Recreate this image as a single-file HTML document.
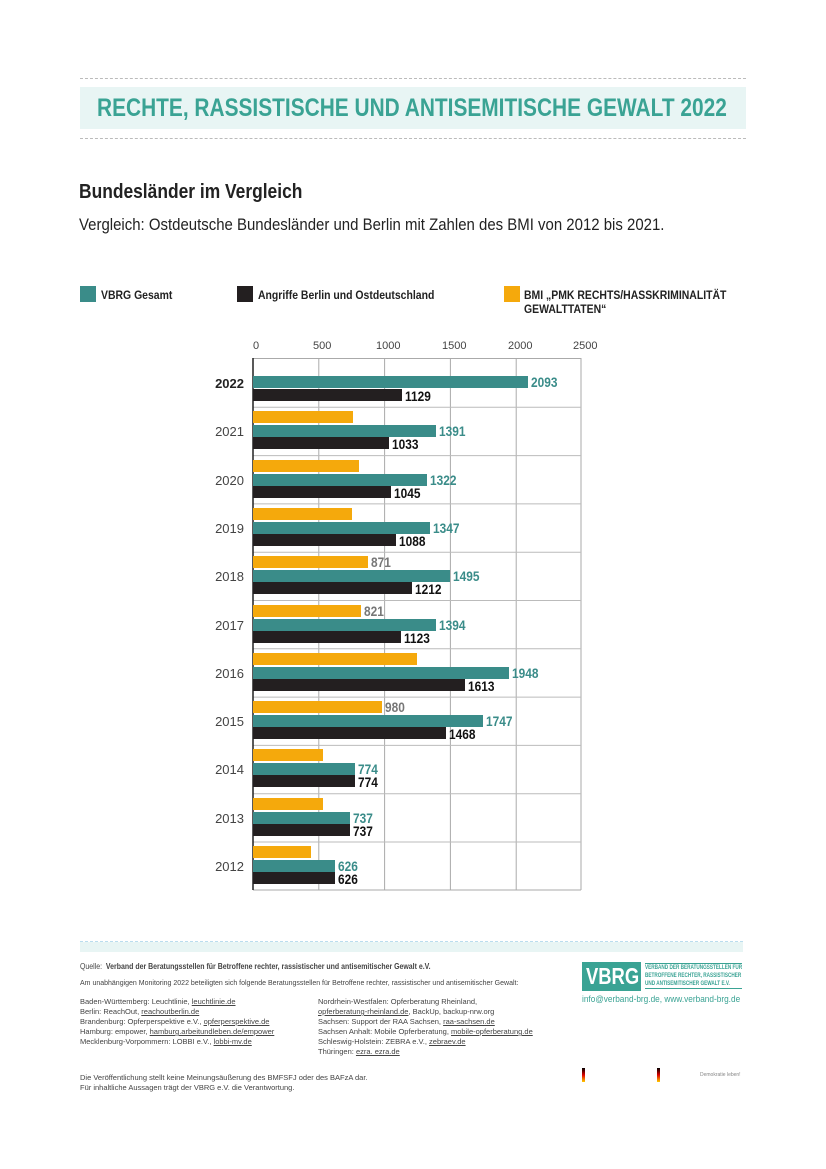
<!DOCTYPE html>
<html><head><meta charset="utf-8"><style>
body{margin:0;background:#fff;}
#p{position:relative;width:826px;height:1169px;overflow:hidden;font-family:"Liberation Sans",sans-serif;color:#222;}
.a{position:absolute;white-space:nowrap;}
.n{transform-origin:0 0;transform:scaleX(0.87);}
.bar{position:absolute;height:12px;}
.t{background:#3a8c89}.k{background:#231f20}.y{background:#f5a90c}
.v{position:absolute;font-weight:bold;font-size:14px;line-height:12px;transform-origin:0 0;transform:scaleX(0.85);}
.yr{position:absolute;left:200px;width:44px;text-align:right;font-size:13px;color:#444;}
.ft{font-size:8px;color:#444;line-height:10px;}
.u{text-decoration:underline;}
</style></head><body><div id="p">
<div class="a" style="left:80px;top:78px;width:666px;border-top:1px dashed #bbb;"></div>
<div class="a" style="left:80px;top:87px;width:666px;height:42px;background:#e8f5f4;"></div>
<div class="a" style="left:80px;top:138px;width:666px;border-top:1px dashed #bbb;"></div>
<div class="a" style="left:97px;top:94px;font-size:25px;font-weight:bold;color:#3aa394;transform-origin:0 0;transform:scaleX(0.835);">RECHTE, RASSISTISCHE UND ANTISEMITISCHE GEWALT 2022</div>
<div class="a n" style="left:79px;top:181px;font-size:20px;font-weight:bold;color:#222;">Bundesländer im Vergleich</div>
<div class="a" style="left:79px;top:215px;font-size:17px;color:#222;transform-origin:0 0;transform:scaleX(0.88);">Vergleich: Ostdeutsche Bundesländer und Berlin mit Zahlen des BMI von 2012 bis 2021.</div>

<div class="a" style="left:80px;top:286px;width:16px;height:16px;background:#3a8c89"></div>
<div class="a n" style="left:101px;top:288px;font-size:12px;font-weight:bold;">VBRG Gesamt</div>
<div class="a" style="left:237px;top:286px;width:16px;height:16px;background:#231f20"></div>
<div class="a n" style="left:258px;top:288px;font-size:12px;font-weight:bold;">Angriffe Berlin und Ostdeutschland</div>
<div class="a" style="left:504px;top:286px;width:16px;height:16px;background:#f5a90c"></div>
<div class="a n" style="left:524px;top:288px;font-size:12px;font-weight:bold;line-height:14px;">BMI „PMK RECHTS/HASSKRIMINALITÄT<br>GEWALTTATEN“</div>

<svg class="a" style="left:0;top:0" width="826" height="1169">
<g stroke="#aaa" stroke-width="1">
<line x1="318.8" y1="358" x2="318.8" y2="890"/><line x1="384.6" y1="358" x2="384.6" y2="890"/>
<line x1="450.4" y1="358" x2="450.4" y2="890"/><line x1="516.2" y1="358" x2="516.2" y2="890"/>
<line x1="581" y1="358" x2="581" y2="890"/>
<line x1="253" y1="358.5" x2="581" y2="358.5"/><line x1="253" y1="890" x2="581" y2="890"/>
</g>
<g stroke="#bbb" id="rows"></g>
<line x1="253" y1="358" x2="253" y2="890" stroke="#222" stroke-width="1.5"/>
</svg>
<div class="a" style="left:253px;top:340px;width:330px;font-size:11px;color:#444;">
<span class="a" style="left:0">0</span><span class="a" style="left:60px">500</span><span class="a" style="left:123px">1000</span><span class="a" style="left:189px">1500</span><span class="a" style="left:255px">2000</span><span class="a" style="left:320px">2500</span></div>
<div id="c"></div>
<div class="a" style="left:80px;top:941px;width:663px;border-top:1px dashed #bde;"></div>
<div class="a" style="left:80px;top:942px;width:663px;height:10px;background:#e8f5f4;"></div>
<div class="a ft n" style="left:80px;top:962px;">Quelle: &nbsp;<b>Verband der Beratungsstellen für Betroffene rechter, rassistischer und antisemitischer Gewalt e.V.</b></div>
<div class="a ft" style="left:80px;top:979px;font-size:7px;">Am unabhängigen Monitoring 2022 beteiligten sich folgende Beratungsstellen für Betroffene rechter, rassistischer und antisemitischer Gewalt:</div>
<div class="a ft" style="left:80px;top:997px;font-size:7.5px;">Baden-Württemberg: Leuchtlinie, <span class="u">leuchtlinie.de</span><br>Berlin: ReachOut, <span class="u">reachoutberlin.de</span><br>Brandenburg: Opferperspektive e.V., <span class="u">opferperspektive.de</span><br>Hamburg: empower, <span class="u">hamburg.arbeitundleben.de/empower</span><br>Mecklenburg-Vorpommern: LOBBI e.V., <span class="u">lobbi-mv.de</span></div>
<div class="a ft" style="left:318px;top:997px;font-size:7.5px;">Nordrhein-Westfalen: Opferberatung Rheinland,<br><span class="u">opferberatung-rheinland.de</span>, BackUp, backup-nrw.org<br>Sachsen: Support der RAA Sachsen, <span class="u">raa-sachsen.de</span><br>Sachsen Anhalt: Mobile Opferberatung, <span class="u">mobile-opferberatung.de</span><br>Schleswig-Holstein: ZEBRA e.V., <span class="u">zebraev.de</span><br>Thüringen: <span class="u">ezra. ezra.de</span></div>
<div class="a ft" style="left:80px;top:1073px;font-size:7.5px;">Die Veröffentlichung stellt keine Meinungsäußerung des BMFSFJ oder des BAFzA dar.<br>Für inhaltliche Aussagen trägt der VBRG e.V. die Verantwortung.</div>
<div class="a" style="left:582px;top:962px;width:59px;height:29px;background:#3aa394;"></div>
<div class="a" style="left:586px;top:962px;color:#fff;font-weight:bold;font-size:23px;line-height:29px;transform-origin:0 0;transform:scaleX(0.8);">VBRG</div>
<div class="a" style="left:645px;top:963px;width:97px;border-top:1px solid #3aa394;border-bottom:1px solid #3aa394;height:24px;"></div>
<div class="a" style="left:645px;top:964px;font-size:6px;font-weight:bold;color:#3aa394;line-height:8px;transform-origin:0 0;transform:scaleX(0.78);">VERBAND DER BERATUNGSSTELLEN FÜR<br>BETROFFENE RECHTER, RASSISTISCHER<br>UND ANTISEMITISCHER GEWALT E.V.</div>
<div class="a" style="left:582px;top:994px;font-size:9.5px;color:#3aa394;transform-origin:0 0;transform:scaleX(0.87);">info@verband-brg.de, www.verband-brg.de</div>
<div class="a" style="left:582px;top:1068px;width:3px;height:14px;background:linear-gradient(#000,#d00,#fc0)"></div>
<div class="a" style="left:657px;top:1068px;width:3px;height:14px;background:linear-gradient(#000,#d00,#fc0)"></div>
<div class="a" style="left:700px;top:1072px;font-size:5px;color:#888;">Demokratie leben!</div>
</div>
<script>
var d=[["2022",null,2093,1129,1],["2021",760,1391,1033],["2020",802,1322,1045],["2019",749,1347,1088],["2018",871,1495,1212,0,1],["2017",821,1394,1123,0,1],["2016",1245,1948,1613],["2015",980,1747,1468,0,1],["2014",535,774,774],["2013",535,737,737],["2012",443,626,626]];
var s=329/2500,h="",r="";
d.forEach(function(e,i){var top=359+i*48.3;
if(i>0)r+='<line x1="253" y1="'+top+'" x2="581" y2="'+top+'"/>';
h+='<div class="yr" style="top:'+(top+17)+'px;'+(e[4]?'font-weight:bold;color:#222;':'')+'">'+e[0]+'</div>';
var ty=e[1]==null?top+17:top+18,ky=top+30;
if(e[1]!=null){var w=e[1]*s;h+='<div class="bar y" style="left:253px;top:'+(top+4)+'px;width:'+w+'px"></div>';
if(e[5])h+='<div class="v" style="left:'+(256+w)+'px;top:'+(top+4)+'px;color:#777">'+e[1]+'</div>';}
var w2=e[2]*s;h+='<div class="bar t" style="left:253px;top:'+ty+'px;width:'+w2+'px"></div><div class="v" style="left:'+(256+w2)+'px;top:'+ty+'px;color:#3a8c89">'+e[2]+'</div>';
var w3=e[3]*s;h+='<div class="bar k" style="left:253px;top:'+ky+'px;width:'+w3+'px"></div><div class="v" style="left:'+(256+w3)+'px;top:'+(ky+1)+'px;color:#111">'+e[3]+'</div>';
});
document.getElementById("c").innerHTML=h;document.getElementById("rows").innerHTML=r;
</script>
</body></html>
